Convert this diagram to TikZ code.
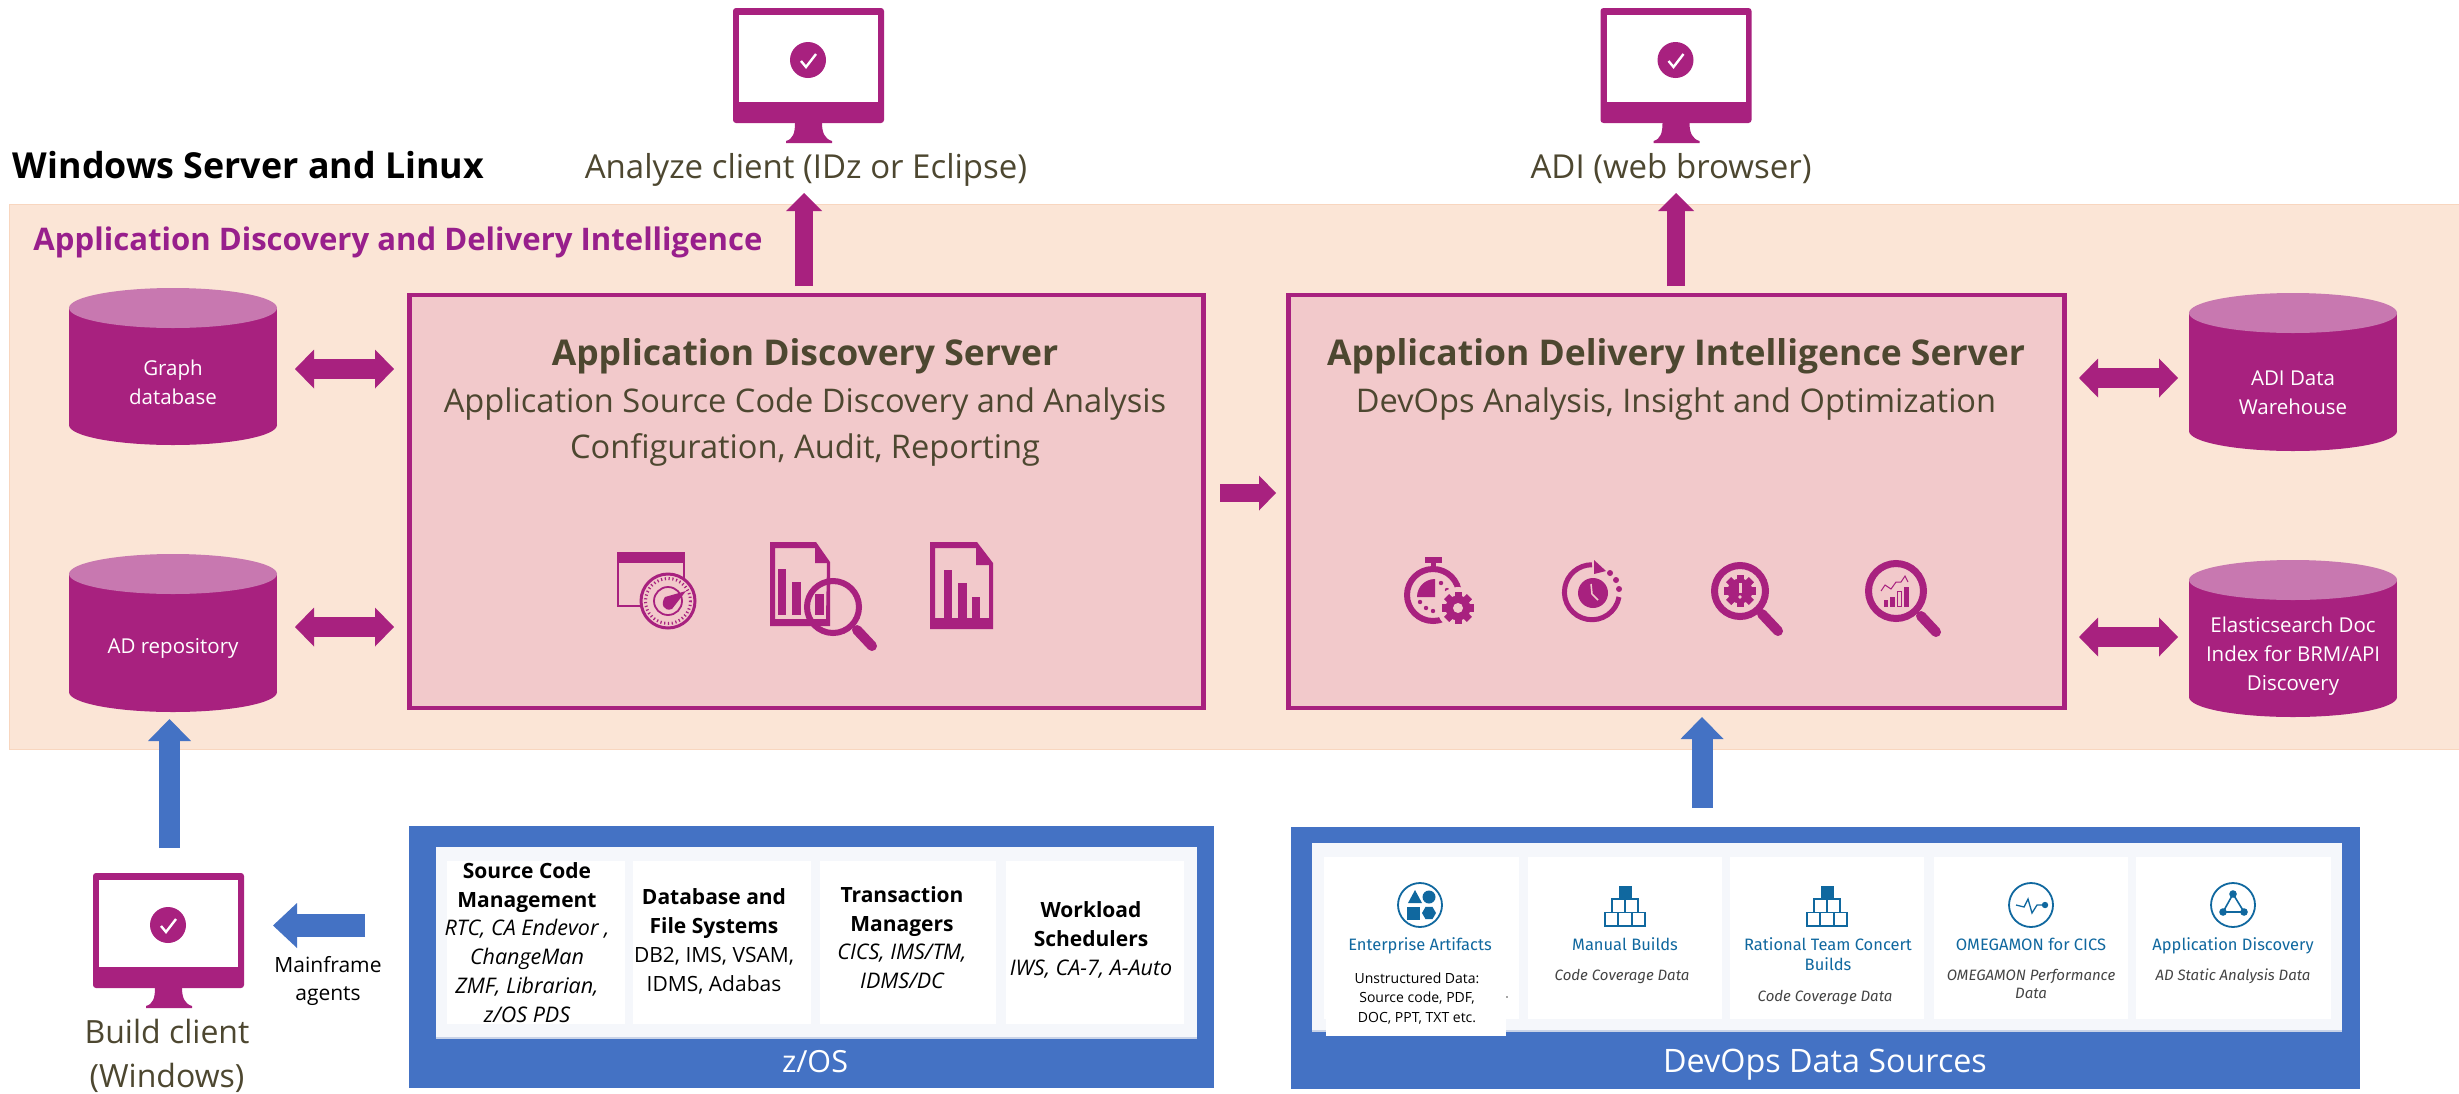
\documentclass[tikz,border=0pt]{standalone}
\usepackage{fontspec}
\setmainfont{Open Sans}
\newfontfamily\plex{Fira Sans}
\usetikzlibrary{arrows.meta,shapes.geometric}
\definecolor{pur}{HTML}{A8217F}
\definecolor{purlt}{HTML}{C878B0}
\definecolor{purtx}{HTML}{981F8C}
\definecolor{peach}{HTML}{FBE5D6}
\definecolor{peachedge}{HTML}{F8D6BF}
\definecolor{pinkb}{HTML}{F2C9CB}
\definecolor{blu}{HTML}{4472C4}
\definecolor{oliv}{HTML}{4D4730}
\definecolor{panel}{HTML}{F5F7FB}
\definecolor{paneledge}{HTML}{C9D3E8}
\definecolor{ibm}{HTML}{10689F}
\definecolor{gtx}{HTML}{444444}
\newcommand{\fsz}[2]{\fontsize{#1}{#2}\selectfont}
\tikzset{
  lab/.style={anchor=base,inner sep=0pt,align=center},
  upb/.style={line width=21pt,blu,-{Triangle[length=22pt,width=43pt,line width=0pt,sep=0pt]}},
  upp/.style={line width=18pt,pur,-{Triangle[length=18pt,width=36pt,line width=0pt,sep=0pt]}},
  dbl/.style={line width=20pt,pur,{Triangle[length=19pt,width=39pt,line width=0pt,sep=0pt]}-{Triangle[length=19pt,width=39pt,line width=0pt,sep=0pt]}},
  server/.style={draw=pur,fill=pinkb,line width=4.5pt,inner sep=0pt},
  bluebox/.style={fill=blu,inner sep=0pt},
  panelbox/.style={fill=panel,inner sep=0pt},
  hd/.style={lab,font=\fsz{21}{29}\bfseries,text=black},
  it/.style={lab,font=\fsz{21.5}{29}\itshape,text=black},
  rm/.style={lab,font=\fsz{21}{29},text=black},
  ctitle/.style={lab,font=\plex\fsz{16.5}{20},text=ibm},
  cit/.style={lab,font=\plex\fsz{15}{18}\itshape,text=gtx},
  clab/.style={lab,font=\fsz{20.5}{29},text=white},
}
% left x, top y of monitor
\newcommand{\monitor}[2]{%
  \begin{scope}[shift={(#1,#2)}]
    \fill[pur,rounded corners=3pt] (0,0) rectangle (151,115);
    \fill[white] (6,7) rectangle (145,94);
    \fill[pur] (62,115) -- (89,115) .. controls (89,125) and (92,131) .. (99,133) -- (99,135) -- (53,135) -- (53,133) .. controls (60,131) and (62,125) .. (62,115) -- cycle;
    \fill[pur] (75,52) circle[radius=18];
    \draw[white,line width=2.4pt] (68,53) -- (73,59) -- (83,46);
  \end{scope}}
% name, left x, top y, height
\newcommand{\dbcyl}[4]{%
  \fill[pur] (#2,#3+20) rectangle (#2+208,#3+#4-20);
  \fill[pur] (#2+104,#3+#4-20) ellipse[x radius=104,y radius=20];
  \fill[purlt] (#2+104,#3+20) ellipse[x radius=104,y radius=20];
  \coordinate (#1) at (#2+104,#3);}
% cx, cy, outer radius, colour
\newcommand{\gearicon}[4]{%
  \foreach \a in {0,45,...,315}{\fill[#4,rotate around={\a:(#1,#2)}] (#1-#3*.22,#2-#3) rectangle (#1+#3*.22,#2+#3);}
  \fill[#4] (#1,#2) circle[radius=#3*.78];}
\begin{document}
\begin{tikzpicture}[x=1pt,y=-1pt]
\useasboundingbox (0,0) rectangle (2459,1093);
\fill[white] (0,0) rectangle (2459,1093);

% band
\node[fill=peach,draw=peachedge,line width=1pt,inner sep=0pt,minimum width=2451pt,minimum height=545pt] (band) at (1234.5,476.5) {};

% titles
\node[lab,font=\fsz{35.8}{40}\bfseries,text=black] (winlinux) at (248.5,178) {Windows Server and Linux};
\node[lab,font=\fsz{31.1}{36}\bfseries,text=purtx] (adititle) at (398,250) {Application Discovery and Delivery Intelligence};

% monitors
\monitor{733}{8}
\monitor{1600.5}{8}
\monitor{93}{873}
\node[lab,font=\fsz{33}{44},text=oliv] (analyze) at (806,178) {Analyze client (IDz or Eclipse)};
\node[lab,font=\fsz{33}{44},text=oliv] (adiweb) at (1671,178) {ADI (web browser)};
\node[lab,font=\fsz{32}{44},text=oliv] (build) at (167,1087) {Build client\\(Windows)};

% servers
\node[server,minimum width=794pt,minimum height=413pt] (ads) at (806.5,501.5) {};
\node[server,minimum width=776pt,minimum height=413pt] (adis) at (1676.5,501.5) {};
\node[lab,font=\fsz{35.5}{46}\bfseries,text=oliv] (adsT) at (805,365) {Application Discovery Server};
\node[lab,font=\fsz{32.6}{46},text=oliv] (adsS) at (805,458) {Application Source Code Discovery and Analysis\\Configuration, Audit, Reporting};
\node[lab,font=\fsz{35.5}{46}\bfseries,text=oliv] (adisT) at (1676,365) {Application Delivery Intelligence Server};
\node[lab,font=\fsz{32.6}{46},text=oliv] (adisS) at (1676,412) {DevOps Analysis, Insight and Optimization};

% cylinders
\dbcyl{gdbc}{69}{288}{157}
\dbcyl{adrc}{69}{554}{158}
\dbcyl{dwc}{2189}{293}{158}
\dbcyl{esc}{2189}{560}{157}
\node[clab] (gdb) at (173,404) {Graph\\database};
\node[clab] (adr) at (173,653) {AD repository};
\node[clab] (dw) at (2293,414) {ADI Data\\Warehouse};
\node[clab] (es) at (2293,690) {Elasticsearch Doc\\Index for BRM/API\\Discovery};

% connector end points
\coordinate (a1) at (295,369); \coordinate (a2) at (394,369);
\coordinate (b1) at (295,627); \coordinate (b2) at (394,627);
\coordinate (c1) at (2079,378); \coordinate (c2) at (2178,378);
\coordinate (d1) at (2079,637); \coordinate (d2) at (2178,637);
\coordinate (e1) at (1220,493); \coordinate (e2) at (1276,493);
\coordinate (f1) at (804,286); \coordinate (f2) at (804,193);
\coordinate (g1) at (1676,286); \coordinate (g2) at (1676,193);
\coordinate (h1) at (169.5,848); \coordinate (h2) at (169.5,719);
\coordinate (i1) at (1702,808); \coordinate (i2) at (1702,717);
\coordinate (j1) at (365,925.5); \coordinate (j2) at (273,925.5);
\draw[dbl] (a1) -- (a2);
\draw[dbl] (b1) -- (b2);
\draw[dbl] (c1) -- (c2);
\draw[dbl] (d1) -- (d2);
\draw[pur,line width=18pt,-{Triangle[length=17pt,width=35pt,line width=0pt,sep=0pt]}] (e1) -- (e2);
\draw[upp] (f1) -- (f2);
\draw[upp] (g1) -- (g2);
\draw[upb] (h1) -- (h2);
\draw[upb] (i1) -- (i2);
\draw[blu,line width=23pt,-{Triangle[length=24pt,width=45pt,line width=0pt,sep=0pt]}] (j1) -- (j2);
\node[lab,font=\fsz{21}{28},text=black] (agents) at (328,1000) {Mainframe\\agents};

% z/OS
\node[bluebox,minimum width=805pt,minimum height=262pt] (zos) at (811.5,957) {};
\node[panelbox,minimum width=761pt,minimum height=191pt] (zpan) at (816.5,942.5) {};
\draw[paneledge,line width=2pt] (zpan.south west) -- (zpan.south east);
\fill[white] (447,861) rectangle (625,1024);
\fill[white] (633,861) rectangle (811,1024);
\fill[white] (820,861) rectangle (996,1024);
\fill[white] (1006,861) rectangle (1184,1024);
\node[hd] (z1a) at (527,907) {Source Code\\Management};
\node[it] (z1b) at (527,1022) {RTC, CA Endevor ,\\ChangeMan\\ZMF, Librarian,\\z/OS PDS};
\node[hd] (z2a) at (714,933) {Database and\\File Systems};
\node[rm] (z2b) at (714,991) {DB2, IMS, VSAM,\\IDMS, Adabas};
\node[hd] (z3a) at (902,931) {Transaction\\Managers};
\node[it] (z3b) at (902,988) {CICS, IMS/TM,\\IDMS/DC};
\node[hd] (z4a) at (1091,946) {Workload\\Schedulers};
\node[it] (z4b) at (1091,975) {IWS, CA-7, A-Auto};
\node[lab,font=\fsz{30.5}{36},text=white] (zosl) at (815,1072) {z/OS};

% DevOps
\node[bluebox,minimum width=1069pt,minimum height=262pt] (dev) at (1825.5,958) {};
\node[panelbox,minimum width=1030pt,minimum height=188pt] (dpan) at (1827,937) {};
\draw[paneledge,line width=2pt] (dpan.south west) -- (dpan.south east);
\fill[white] (1324,857) rectangle (1519,1019);
\fill[white] (1528,857) rectangle (1722,1019);
\fill[white] (1730,857) rectangle (1924,1019);
\fill[white] (1934,857) rectangle (2128,1019);
\fill[white] (2136,857) rectangle (2331,1019);
\fill[white] (1326,970) rectangle (1506,1036);
\fill[black!70] (1507,997) circle[radius=.8];
\node[ctitle] (dt1) at (1420,950) {Enterprise Artifacts};
\node[lab,font=\fsz{14}{19.5},text=black] (dt1b) at (1417,1022) {Unstructured Data:\\Source code, PDF,\\DOC, PPT, TXT etc.};
\node[ctitle] (dt2) at (1625,950) {Manual Builds};
\node[cit] (dt2b) at (1622,980) {Code Coverage Data};
\node[ctitle] (dt3) at (1828,970) {Rational Team Concert\\Builds};
\node[cit] (dt3b) at (1825,1001) {Code Coverage Data};
\node[ctitle] (dt4) at (2031,950) {OMEGAMON for CICS};
\node[cit] (dt4b) at (2031,998) {OMEGAMON Performance\\Data};
\node[ctitle] (dt5) at (2233,950) {Application Discovery};
\node[cit] (dt5b) at (2233,980) {AD Static Analysis Data};
\node[lab,font=\fsz{32.3}{36},text=white] (devl) at (1825,1072) {DevOps Data Sources};

% card icons
\draw[draw=ibm,line width=1.8pt] (1420,905) circle[radius=22];
\fill[ibm] (1415,890) -- (1422,903) -- (1408,903) -- cycle;
\fill[ibm] (1429,897) circle[radius=6.5];
\fill[ibm] (1407,907) rectangle (1420,920);
\node[regular polygon,regular polygon sides=6,fill=ibm,inner sep=0pt,minimum size=14pt] (hexi) at (1429,913) {};
\foreach \cx in {1625,1827}{
  \fill[ibm] (\cx-6.5,886) rectangle (\cx+6.5,899);
  \draw[ibm,line width=1.2pt] (\cx-13,899) rectangle (\cx,912.5);
  \draw[ibm,line width=1.2pt] (\cx,899) rectangle (\cx+13,912.5);
  \draw[ibm,line width=1.2pt] (\cx-20,912.5) rectangle (\cx-7,926);
  \draw[ibm,line width=1.2pt] (\cx-7,912.5) rectangle (\cx+7,926);
  \draw[ibm,line width=1.2pt] (\cx+7,912.5) rectangle (\cx+20,926);
}
\draw[draw=ibm,line width=1.8pt] (2031,905) circle[radius=22];
\draw[ibm,line width=1.3pt] (2016,905) -- (2024,907) -- (2028,899) -- (2032,913) -- (2037,905) -- (2045,905);
\fill[ibm] (2045,905) circle[radius=3.2];
\draw[draw=ibm,line width=1.8pt] (2233,905) circle[radius=22];
\draw[ibm,line width=1.6pt] (2233,894) -- (2223,912) -- (2244,912) -- cycle;
\fill[ibm] (2233,894) circle[radius=3.8];
\fill[ibm] (2223,912) circle[radius=3.8];
\fill[ibm] (2244,912) circle[radius=3.8];

% --- server icons ---
% window + gauge
\draw[pur,line width=2.2pt] (618,553) rectangle (684,606);
\fill[pur] (617,552) rectangle (685,563);
\fill[pinkb] (668,601) circle[radius=28];
\draw[pur,line width=3pt] (668,601) circle[radius=27];
\draw[pur,line width=3pt,dash pattern=on 1.2pt off 2.6pt] (668,601) circle[radius=22.5];
\draw[pur,line width=1.8pt] (668,601) circle[radius=14];
\fill[pur] (686,591) -- (672,609) .. controls (664,612) and (660,604) .. (665,597) -- cycle;
% doc + bars + lens
\fill[pur,even odd rule] (770,542) -- (816,542) -- (830,562) -- (830,626) -- (770,626) -- cycle
  (775,548) -- (815,548) -- (815,563) -- (827,563) -- (826,619) -- (775,619) -- cycle;
\fill[pur] (778,569) rectangle (786,615);
\fill[pur] (792,582) rectangle (801,615);
\fill[pur] (815,594) rectangle (824,615);
\draw[pur,line width=6pt] (833,607) circle[radius=26];
\draw[pur,line width=10pt,line cap=round] (857,630) -- (872,646);
% doc + bars
\fill[pur,even odd rule] (930,542) -- (977,542) -- (993,563) -- (993,629) -- (930,629) -- cycle
  (935,548) -- (976,548) -- (976,565) -- (989,565) -- (989,618) -- (935,618) -- cycle;
\fill[pur] (944,570) rectangle (952,618);
\fill[pur] (958,583) rectangle (967,618);
\fill[pur] (972,597) rectangle (980,618);
% stopwatch + gear
\fill[pur] (1425,557) rectangle (1442,563);
\fill[pur] (1431,563) rectangle (1436,570);
\draw[pur,line width=6pt] (1433,595) circle[radius=26];
\fill[pur] (1435,597) -- (1417,597) .. controls (1417,587) and (1425,579) .. (1435,579) -- cycle;
\foreach \px/\py in {1441/583,1447/590,1420/602,1426/608,1433/611}{\fill[pur] (\px,\py) circle[radius=2.2];}
\fill[pinkb] (1458,608) circle[radius=21];
\gearicon{1458}{608}{16}{pur}
\fill[pinkb] (1458,608) circle[radius=5];
% clock with arrow
\draw[pur,line width=5pt] (1619,597) arc[start angle=10,end angle=270,radius=27.5];
\fill[pur] (1594,560) -- (1606,571) -- (1594,574) -- cycle;
\fill[pur] (1610,573) circle[radius=3];
\fill[pur] (1616,580) circle[radius=3];
\fill[pur] (1619,589) circle[radius=3];
\fill[pur] (1593,593) circle[radius=15];
\draw[pinkb,line width=1.5pt] (1591,584) -- (1592,594) -- (1598,600);
% lens with gear
\draw[pur,line width=7pt] (1740,591) circle[radius=25.5];
\draw[pur,line width=10pt,line cap=round] (1762,614) -- (1778,631);
\gearicon{1740}{591}{16}{pur}
\fill[pinkb] (1738.5,583) rectangle (1741.5,593);
\fill[pinkb] (1740,597) circle[radius=1.8];
% lens with chart
\draw[pur,line width=7pt] (1896,591) circle[radius=27.5];
\draw[pur,line width=10pt,line cap=round] (1921,616) -- (1936,632);
\fill[pur] (1884,600) rectangle (1888,607);
\fill[pur] (1890,597) rectangle (1895,607);
\draw[pur,line width=1pt] (1897.5,591.5) rectangle (1901.5,606.5);
\fill[pur] (1904,587) rectangle (1909,607);
\draw[pur,line width=1pt] (1881,591) -- (1885,585) -- (1891,589) -- (1896,582) -- (1901,582) -- (1905,576) -- (1908,582);
\end{tikzpicture}
\end{document}
